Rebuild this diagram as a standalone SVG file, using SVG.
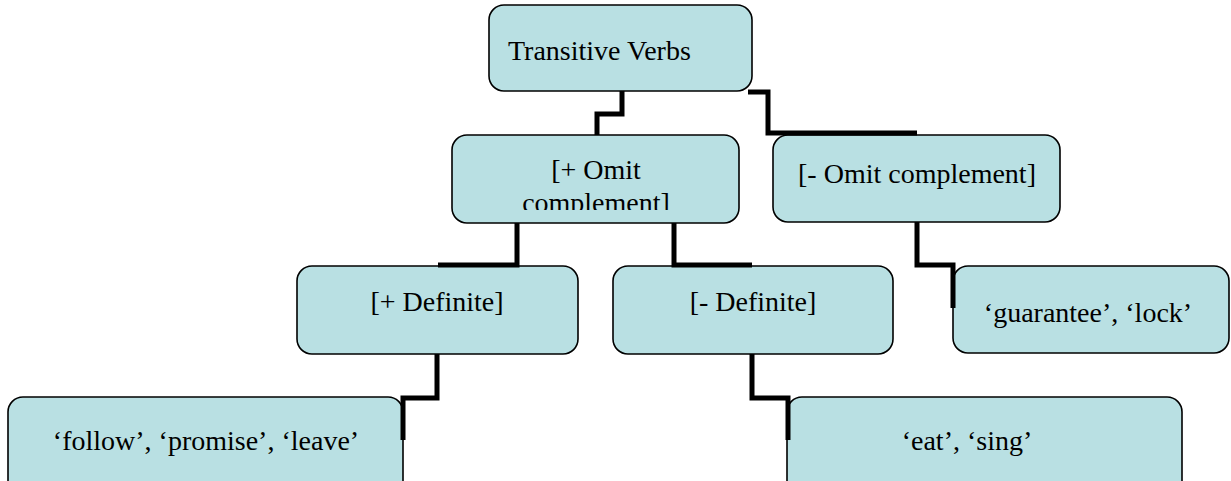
<svg xmlns="http://www.w3.org/2000/svg" width="1231" height="481" viewBox="0 0 1231 481">
<style>
.box{fill:#B9E0E3;stroke:#000;stroke-width:1.6}
.lbl{font-family:"Liberation Serif","Times New Roman",serif;font-size:28px;fill:#000}
.c{text-anchor:middle}
.conn{fill:none;stroke:#000;stroke-width:5;stroke-linejoin:miter}
</style>
<defs>
<clipPath id="clipOmit"><rect x="452" y="135" width="287" height="75"/></clipPath>
</defs>
<rect width="1231" height="481" fill="#fff"/>
<g id="n-transitive">
<rect class="box" x="489" y="5" width="263" height="86" rx="15"/>
<text class="lbl" x="508" y="60">Transitive Verbs</text>
</g>
<g id="n-plus-omit">
<rect class="box" x="452" y="135" width="287" height="88" rx="15"/>
<g clip-path="url(#clipOmit)">
<text class="lbl c" x="596" y="179">[+ Omit</text>
<text class="lbl c" x="596" y="212">complement]</text>
</g>
</g>
<g id="n-minus-omit">
<rect class="box" x="773" y="135" width="287" height="87" rx="15"/>
<text class="lbl c" x="917" y="183">[- Omit complement]</text>
</g>
<g id="n-plus-def">
<rect class="box" x="297" y="266" width="281" height="88" rx="15"/>
<text class="lbl c" x="437" y="311">[+ Definite]</text>
</g>
<g id="n-minus-def">
<rect class="box" x="613" y="266" width="280" height="88" rx="15"/>
<text class="lbl c" x="753" y="311">[- Definite]</text>
</g>
<g id="n-guarantee">
<rect class="box" x="953" y="266" width="276" height="87" rx="15"/>
<text class="lbl c" x="1088" y="322">‘guarantee’, ‘lock’</text>
</g>
<g id="n-follow">
<rect class="box" x="8" y="397" width="395" height="110" rx="15"/>
<text class="lbl c" x="206" y="450">‘follow’, ‘promise’, ‘leave’</text>
</g>
<g id="n-eat">
<rect class="box" x="787" y="397" width="395" height="110" rx="15"/>
<text class="lbl c" x="967" y="450">‘eat’, ‘sing’</text>
</g>
<g id="connectors">
<path class="conn" d="M622,91 V114 H597 V135"/>
<path class="conn" d="M748,92 H768 V133 H917"/>
<path class="conn" d="M517,223 V265 H438"/>
<path class="conn" d="M674,223 V265 H752"/>
<path class="conn" d="M917,222 V265 H953 V308"/>
<path class="conn" d="M437,354 V398 H403 V440"/>
<path class="conn" d="M752,354 V398 H788 V440"/>
</g>
</svg>
